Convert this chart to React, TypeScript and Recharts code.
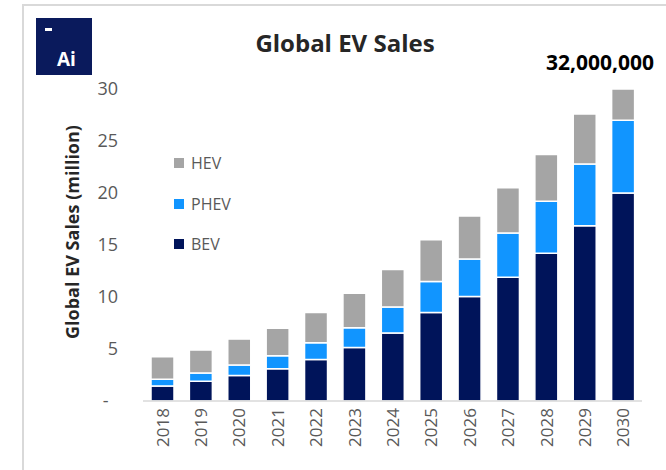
import { BarChart, Bar, XAxis, YAxis } from "recharts";

const years = ["2018", "2019", "2020", "2021", "2022", "2023", "2024", "2025", "2026", "2027", "2028", "2029", "2030"];
const bev = [1.45, 1.9, 2.45, 3.1, 4.0, 5.15, 6.55, 8.5, 10.05, 11.9, 14.2, 16.85, 20.0];
const phev = [0.65, 0.8, 1.0, 1.25, 1.6, 1.9, 2.5, 3.0, 3.6, 4.25, 5.0, 5.95, 7.0];
const hev = [2.15, 2.2, 2.5, 2.65, 2.9, 3.3, 3.6, 4.0, 4.15, 4.35, 4.5, 4.8, 3.0];
const yTicks = [0, 5, 10, 15, 20, 25, 30];

const series = [
  { key: "BEV", values: bev, color: "#00145a" },
  { key: "PHEV", values: phev, color: "#1195ff" },
  { key: "HEV", values: hev, color: "#a5a5a5" },
];

const data = years.map((year, i) => ({
  year,
  BEV: bev[i],
  PHEV: phev[i],
  HEV: hev[i],
}));

const font = "'Open Sans', 'Noto Sans', sans-serif";

function YearTick({ x, y, payload }: any) {
  return (
    <text
      x={x}
      y={y}
      transform={`rotate(-90, ${x}, ${y})`}
      textAnchor="end"
      dominantBaseline="central"
      fill="#595959"
      fontSize={17}
      fontFamily={font}
    >
      {payload.value}
    </text>
  );
}

// legend drawn outside the chart so it doesn't eat plot space
function LegendBox() {
  return (
    <div
      style={{
        position: "absolute",
        left: 174,
        top: 143,
        fontFamily: font,
        fontSize: 16,
        color: "#595959",
      }}
    >
      {[...series].reverse().map((s) => (
        <div key={s.key} style={{ display: "flex", alignItems: "center", height: 40.5 }}>
          <span style={{ width: 10, height: 10, background: s.color, marginRight: 7 }} />
          {s.key}
        </div>
      ))}
    </div>
  );
}

export default function App() {
  return (
    <div style={{ position: "absolute", left: 0, top: 0, width: 666, height: 470, background: "#fff", overflow: "hidden" }}>
      {/* frame */}
      <div style={{ position: "absolute", left: 22, top: 4, width: 2, height: 466, background: "#d9d9d9" }} />
      <div style={{ position: "absolute", left: 22, top: 4, width: 644, height: 2, background: "#d9d9d9" }} />

      {/* logo */}
      <div style={{ position: "absolute", left: 36, top: 18, width: 56, height: 57, background: "#0a1a5c" }}>
        <div style={{ position: "absolute", left: 9, top: 10, width: 7, height: 3, background: "#fff" }} />
        <div
          style={{
            position: "absolute",
            left: 21,
            top: 30,
            color: "#fff",
            fontFamily: font,
            fontWeight: 700,
            fontSize: 19,
            lineHeight: "22px",
          }}
        >
          Ai
        </div>
      </div>

      <div
        style={{
          position: "absolute",
          left: 195,
          top: 27,
          width: 300,
          textAlign: "center",
          fontFamily: font,
          fontWeight: 700,
          fontSize: 24,
          lineHeight: "32px",
          color: "#262626",
        }}
      >
        Global EV Sales
      </div>

      <div
        style={{
          position: "absolute",
          left: 520,
          top: 48,
          width: 160,
          textAlign: "center",
          fontFamily: font,
          fontWeight: 700,
          fontSize: 21,
          lineHeight: "28px",
          color: "#000",
        }}
      >
        32,000,000
      </div>

      <div
        style={{
          position: "absolute",
          left: 72 - 150,
          top: 232 - 13,
          width: 300,
          textAlign: "center",
          transform: "rotate(-90deg)",
          fontFamily: font,
          fontWeight: 700,
          fontSize: 18,
          lineHeight: "26px",
          color: "#262626",
        }}
      >
        Global EV Sales (million)
      </div>

      <LegendBox />

      <div style={{ position: "absolute", left: 0, top: 0 }}>
        <BarChart
          width={666}
          height={470}
          data={data}
          margin={{ top: 89, right: 24, bottom: 0, left: 0 }}
          barSize={23}
          accessibilityLayer={false}
        >
          <XAxis
            dataKey="year"
            height={69}
            tickLine={false}
            tickSize={0}
            tickMargin={7}
            axisLine={{ stroke: "#d9d9d9", strokeWidth: 1.5 }}
            tick={<YearTick />}
            interval={0}
          />
          <YAxis
            width={143}
            domain={[0, 30]}
            ticks={yTicks}
            axisLine={false}
            tickLine={false}
            tickSize={0}
            tickMargin={25}
            tickFormatter={(v: number) => (v === 0 ? "-\u00a0\u00a0" : String(v))}
            tick={{ fill: "#595959", fontSize: 18, fontFamily: font }}
          />
          {series.map((s) => (
            <Bar
              key={s.key}
              dataKey={s.key}
              stackId="ev"
              fill={s.color}
              stroke="#ffffff"
              strokeWidth={1.5}
              isAnimationActive={false}
            />
          ))}
        </BarChart>
      </div>
    </div>
  );
}
